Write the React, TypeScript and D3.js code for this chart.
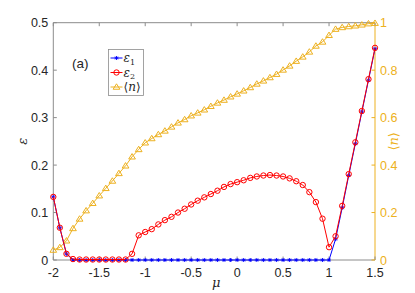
import React, { useEffect, useRef } from "react";
import * as d3 from "d3";

const mu = [
  -2, -1.929, -1.857, -1.786, -1.714, -1.643, -1.571, -1.5, -1.429, -1.357,
  -1.286, -1.214, -1.143, -1.071, -1, -0.929, -0.857, -0.786, -0.714, -0.643,
  -0.571, -0.5, -0.429, -0.357, -0.286, -0.214, -0.143, -0.071, 0, 0.071,
  0.143, 0.214, 0.286, 0.357, 0.429, 0.5, 0.571, 0.643, 0.714, 0.786,
  0.857, 0.929, 1, 1.071, 1.143, 1.214, 1.286, 1.357, 1.429, 1.5,
];

const eps1 = [
  0.133, 0.068, 0.013, 0, 0, 0, 0, 0, 0, 0,
  0, 0, 0, 0, 0, 0, 0, 0, 0, 0,
  0, 0, 0, 0, 0, 0, 0, 0, 0, 0,
  0, 0, 0, 0, 0, 0, 0, 0, 0, 0,
  0, 0, 0, 0.044, 0.11, 0.178, 0.245, 0.312, 0.379, 0.445,
];

const eps2 = [
  0.133, 0.068, 0.013, 0.002, 0.001, 0.001, 0.001, 0.001, 0.001, 0.001,
  0.001, 0.001, 0.013, 0.052, 0.059, 0.065, 0.075, 0.084, 0.091, 0.1,
  0.108, 0.117, 0.125, 0.132, 0.139, 0.146, 0.154, 0.16, 0.164, 0.168,
  0.173, 0.176, 0.178, 0.179, 0.178, 0.176, 0.172, 0.166, 0.158, 0.143,
  0.122, 0.087, 0.027, 0.05, 0.114, 0.181, 0.248, 0.314, 0.381, 0.447,
];

const nAvg = [
  0.042, 0.053, 0.081, 0.133, 0.173, 0.208, 0.239, 0.271, 0.302, 0.333,
  0.365, 0.397, 0.435, 0.466, 0.494, 0.512, 0.529, 0.544, 0.561, 0.578,
  0.592, 0.608, 0.62, 0.633, 0.648, 0.662, 0.674, 0.688, 0.7, 0.713,
  0.727, 0.742, 0.755, 0.769, 0.783, 0.801, 0.818, 0.838, 0.856, 0.877,
  0.902, 0.919, 0.947, 0.973, 0.98, 0.984, 0.987, 0.991, 0.996, 0.998,
];

const xTicks = [-2, -1.5, -1, -0.5, 0, 0.5, 1, 1.5];
const yTicks = [0, 0.1, 0.2, 0.3, 0.4, 0.5];
const y2Ticks = [0, 0.2, 0.4, 0.6, 0.8, 1];

const W = 415;
const H = 293;
const margin = { top: 22.7, right: 40, bottom: 33, left: 53.3 };

const BLUE = "#0000ff";
const RED = "#ff0000";
const GOLD = "#edb120";
const AXIS = "#8c8c8c";
const TEXT = "#262626";
const FONT = "'Liberation Sans', Arial, sans-serif";

const starPath = (r) =>
  `M${-r},0L${r},0M0,${-r}L0,${r}M${-r * 0.7},${-r * 0.7}L${r * 0.7},${r * 0.7}M${-r * 0.7},${r * 0.7}L${r * 0.7},${-r * 0.7}`;
const triPath = (r) => `M0,${-r}L${r * 1.05},${r * 0.7}L${-r * 1.05},${r * 0.7}Z`;

const App = () => {
  const ref = useRef(null);

  useEffect(() => {
    const svg = d3.select(ref.current);
    svg.selectAll("*").remove();

    const x0 = margin.left;
    const x1 = W - margin.right;
    const y0 = H - margin.bottom;
    const y1 = margin.top;

    const x = d3.scaleLinear().domain([-2, 1.5]).range([x0, x1]);
    const y = d3.scaleLinear().domain([0, 0.5]).range([y0, y1]);
    const y2 = d3.scaleLinear().domain([0, 1]).range([y0, y1]);

    const tl = 3.5;

    // axes box
    const ax = svg.append("g");
    ax.append("line").attr("x1", x0).attr("x2", x1).attr("y1", y0).attr("y2", y0).attr("stroke", AXIS);
    ax.append("line").attr("x1", x0).attr("x2", x1).attr("y1", y1).attr("y2", y1).attr("stroke", AXIS);
    ax.append("line").attr("x1", x0).attr("x2", x0).attr("y1", y0).attr("y2", y1).attr("stroke", AXIS);
    ax.append("line").attr("x1", x1).attr("x2", x1).attr("y1", y0).attr("y2", y1).attr("stroke", GOLD);

    xTicks.forEach((t) => {
      ax.append("line").attr("x1", x(t)).attr("x2", x(t)).attr("y1", y0).attr("y2", y0 - tl).attr("stroke", AXIS);
      ax.append("line").attr("x1", x(t)).attr("x2", x(t)).attr("y1", y1).attr("y2", y1 + tl).attr("stroke", AXIS);
      ax.append("text")
        .attr("x", x(t))
        .attr("y", y0 + 16.5)
        .attr("text-anchor", "middle")
        .attr("font-size", 12.5)
        .attr("font-family", FONT)
        .attr("fill", TEXT)
        .text(t);
    });

    yTicks.forEach((t) => {
      ax.append("line").attr("x1", x0).attr("x2", x0 + tl).attr("y1", y(t)).attr("y2", y(t)).attr("stroke", AXIS);
      ax.append("text")
        .attr("x", x0 - 5)
        .attr("y", y(t) + 4.5)
        .attr("text-anchor", "end")
        .attr("font-size", 12.5)
        .attr("font-family", FONT)
        .attr("fill", TEXT)
        .text(t);
    });

    y2Ticks.forEach((t) => {
      ax.append("line").attr("x1", x1).attr("x2", x1 - tl).attr("y1", y2(t)).attr("y2", y2(t)).attr("stroke", GOLD);
      ax.append("text")
        .attr("x", x1 + 5)
        .attr("y", y2(t) + 4.5)
        .attr("text-anchor", "start")
        .attr("font-size", 12.5)
        .attr("font-family", FONT)
        .attr("fill", GOLD)
        .text(t);
    });

    // axis labels
    ax.append("text")
      .attr("transform", `translate(${x0 - 26},${(y0 + y1) / 2}) rotate(-90)`)
      .attr("text-anchor", "middle")
      .attr("font-size", 13)
      .attr("font-family", "'DejaVu Serif', serif")
      .attr("font-style", "italic")
      .attr("fill", TEXT)
      .text("ε");
    ax.append("text")
      .attr("x", (x0 + x1) / 2 + 2)
      .attr("y", y0 + 27)
      .attr("text-anchor", "middle")
      .attr("font-size", 13)
      .attr("font-family", "'DejaVu Serif', serif")
      .attr("font-style", "italic")
      .attr("fill", TEXT)
      .text("μ");
    const nl = ax.append("text")
      .attr("transform", `translate(${x1 + 23},${(y0 + y1) / 2}) rotate(-90)`)
      .attr("text-anchor", "middle")
      .attr("font-size", 13)
      .attr("font-family", "'DejaVu Serif', serif")
      .attr("fill", GOLD);
    nl.append("tspan").text("⟨");
    nl.append("tspan").attr("font-style", "italic").text("n");
    nl.append("tspan").text("⟩");

    // series
    const plot = svg.append("g");
    const nPts = mu.map((m, i) => [m, nAvg[i]]);
    const e1Pts = mu.map((m, i) => [m, eps1[i]]);
    const e2Pts = mu.map((m, i) => [m, eps2[i]]);

    const line = d3.line().x((d) => x(d[0])).y((d) => y(d[1]));
    const line2 = d3.line().x((d) => x(d[0])).y((d) => y2(d[1]));

    plot.append("path").attr("d", line2(nPts)).attr("fill", "none").attr("stroke", GOLD).attr("stroke-width", 1);
    plot.selectAll("path.tri")
      .data(nPts)
      .enter()
      .append("path")
      .attr("class", "tri")
      .attr("d", triPath(3.2))
      .attr("transform", (d) => `translate(${x(d[0])},${y2(d[1])})`)
      .attr("fill", "none")
      .attr("stroke", GOLD)
      .attr("stroke-width", 1);

    plot.append("path").attr("d", line(e1Pts)).attr("fill", "none").attr("stroke", BLUE).attr("stroke-width", 1);
    plot.selectAll("path.star")
      .data(e1Pts)
      .enter()
      .append("path")
      .attr("class", "star")
      .attr("d", starPath(2))
      .attr("transform", (d) => `translate(${x(d[0])},${y(d[1])})`)
      .attr("stroke", BLUE)
      .attr("stroke-width", 0.9);

    plot.append("path").attr("d", line(e2Pts)).attr("fill", "none").attr("stroke", RED).attr("stroke-width", 1);
    plot.selectAll("circle.c")
      .data(e2Pts)
      .enter()
      .append("circle")
      .attr("class", "c")
      .attr("cx", (d) => x(d[0]))
      .attr("cy", (d) => y(d[1]))
      .attr("r", 2.7)
      .attr("fill", "none")
      .attr("stroke", RED)
      .attr("stroke-width", 1);

    // legend
    const lg = svg.append("g");
    const lx = 108.5;
    const ly = 49.5;
    lg.append("rect").attr("x", lx).attr("y", ly).attr("width", 35).attr("height", 46)
      .attr("fill", "white").attr("stroke", AXIS).attr("stroke-width", 0.8);
    const items = [
      { color: BLUE, kind: "star", sub: "1" },
      { color: RED, kind: "circle", sub: "2" },
      { color: GOLD, kind: "tri", sub: null },
    ];
    items.forEach((it, i) => {
      const cy = ly + 8.5 + i * 14.5;
      lg.append("line").attr("x1", lx + 2).attr("x2", lx + 14).attr("y1", cy).attr("y2", cy).attr("stroke", it.color);
      if (it.kind === "star") {
        lg.append("path").attr("d", starPath(2)).attr("transform", `translate(${lx + 8},${cy})`).attr("stroke", it.color).attr("stroke-width", 0.9);
      } else if (it.kind === "circle") {
        lg.append("circle").attr("cx", lx + 8).attr("cy", cy).attr("r", 2.7).attr("fill", "none").attr("stroke", it.color);
      } else {
        lg.append("path").attr("d", triPath(3.2)).attr("transform", `translate(${lx + 8},${cy})`).attr("fill", "none").attr("stroke", it.color);
      }
      const t = lg.append("text")
        .attr("x", lx + 15)
        .attr("y", cy + 4)
        .attr("font-size", 12)
        .attr("font-family", "'DejaVu Serif', serif")
        .attr("fill", TEXT);
      if (it.sub) {
        t.append("tspan").attr("font-style", "italic").text("ε");
        t.append("tspan").attr("font-size", 8).attr("dy", 2.5).text(it.sub);
      } else {
        t.append("tspan").text("⟨");
        t.append("tspan").attr("font-style", "italic").text("n");
        t.append("tspan").text("⟩");
      }
    });

    svg.append("text")
      .attr("x", 72)
      .attr("y", 68)
      .attr("font-size", 13.5)
      .attr("font-family", FONT)
      .attr("fill", TEXT)
      .text("(a)");
  }, []);

  return (
    <svg
      ref={ref}
      width={W}
      height={H}
      style={{ position: "absolute", left: 0, top: 0, background: "white" }}
    />
  );
};

export default App;
